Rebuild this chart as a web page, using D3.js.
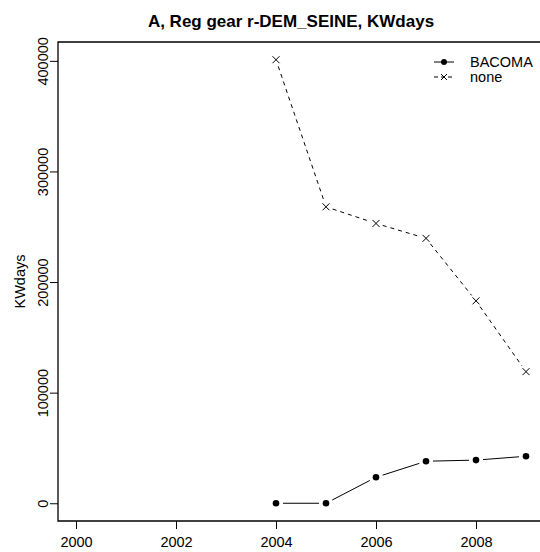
<!DOCTYPE html>
<html>
<head>
<meta charset="utf-8">
<script src="https://cdn.jsdelivr.net/npm/d3@7"></script>
<style>
  body { margin: 0; background: #fff; }
  svg { display: block; font-family: "Liberation Sans", Arial, sans-serif; }
</style>
</head>
<body>
<div id="chart"></div>
<script>
"use strict";

const years = [2004, 2005, 2006, 2007, 2008, 2009];
const bacoma = [0, 0, 23500, 38000, 39000, 42500];
const none = [401000, 268000, 253000, 239500, 183000, 119000];
const xTicks = [2000, 2002, 2004, 2006, 2008];
const yTicks = [0, 100000, 200000, 300000, 400000];
const seriesNames = ["BACOMA", "none"];

const width = 540, height = 552;
const plot = { left: 58, top: 42, right: 544, bottom: 521 };
const font = "Liberation Sans, Arial, sans-serif";

// R style 4% extension of the data ranges
const xlo = 2000, xhi = 2009;
const xpad = (xhi - xlo) * 0.04;
const ymax = d3.max(none);
const ypad = ymax * 0.04;

const x = d3.scaleLinear().domain([xlo - xpad, xhi + xpad]).range([plot.left, plot.right]);
const y = d3.scaleLinear().domain([-ypad, ymax + ypad]).range([plot.bottom, plot.top]);

const svg = d3.select("#chart").append("svg")
    .attr("width", width)
    .attr("height", height);

// box (right edge falls outside the picture)
svg.append("path")
    .attr("d", `M${width},${plot.top}H${plot.left}V${plot.bottom}H${width}`)
    .attr("fill", "none")
    .attr("stroke", "#000")
    .attr("stroke-width", 1.3);

// x axis
const xAxis = svg.append("g").attr("transform", `translate(0,${plot.bottom})`)
    .call(d3.axisBottom(x).tickValues(xTicks).tickFormat(d3.format("d")).tickSize(8).tickSizeOuter(0));
xAxis.select(".domain").remove();
xAxis.selectAll("line").attr("stroke", "#000");
xAxis.selectAll("text")
    .attr("font-size", 14.5).attr("fill", "#000").attr("font-family", font)
    .attr("y", 26).attr("dy", null);

// y axis
const yAxis = svg.append("g").attr("transform", `translate(${plot.left},0)`)
    .call(d3.axisLeft(y).tickValues(yTicks).tickFormat(d3.format("d")).tickSize(8).tickSizeOuter(0));
yAxis.select(".domain").remove();
yAxis.selectAll("line").attr("stroke", "#000");
yAxis.selectAll("text")
    .attr("font-size", 14.5).attr("fill", "#000").attr("font-family", font)
    .attr("x", null).attr("dy", null)
    .attr("text-anchor", "middle")
    .attr("transform", "translate(-10,0) rotate(-90)");

// title and axis label
svg.append("text")
    .attr("x", 291).attr("y", 27)
    .attr("text-anchor", "middle")
    .attr("font-size", 17).attr("font-weight", "bold")
    .text("A, Reg gear r-DEM_SEINE, KWdays");

svg.append("text")
    .attr("transform", `translate(25,${(plot.top + plot.bottom) / 2}) rotate(-90)`)
    .attr("text-anchor", "middle")
    .attr("font-size", 14.5)
    .text("KWdays");

// type "b" lines: segments stop short of the points
const gap = 7;
function drawSeries(vals, dash, marker) {
    const pts = years.map((yr, i) => [x(yr), y(vals[i])]);
    const segs = [];
    for (let i = 0; i < pts.length - 1; i++) {
        const [x0, y0] = pts[i], [x1, y1] = pts[i + 1];
        const len = Math.hypot(x1 - x0, y1 - y0);
        if (len <= 2 * gap) continue;
        const ux = (x1 - x0) / len, uy = (y1 - y0) / len;
        segs.push([[x0 + ux * gap, y0 + uy * gap], [x1 - ux * gap, y1 - uy * gap]]);
    }
    const g = svg.append("g");
    g.selectAll("line.seg").data(segs).enter().append("line")
        .attr("x1", d => d[0][0]).attr("y1", d => d[0][1])
        .attr("x2", d => d[1][0]).attr("y2", d => d[1][1])
        .attr("stroke", "#000").attr("stroke-width", 1)
        .attr("stroke-dasharray", dash);
    if (marker === "dot") {
        g.selectAll("circle").data(pts).enter().append("circle")
            .attr("cx", d => d[0]).attr("cy", d => d[1]).attr("r", 3.3).attr("fill", "#000");
    } else {
        g.selectAll("path").data(pts).enter().append("path")
            .attr("d", d => `M${d[0]-3.5},${d[1]-3.5}L${d[0]+3.5},${d[1]+3.5}M${d[0]-3.5},${d[1]+3.5}L${d[0]+3.5},${d[1]-3.5}`)
            .attr("stroke", "#000").attr("stroke-width", 1);
    }
}
drawSeries(bacoma, null, "dot");
drawSeries(none, "4,4", "cross");

// legend
const legend = svg.append("g").attr("transform", "translate(434,62)");
seriesNames.forEach((name, i) => {
    const row = legend.append("g").attr("transform", `translate(0,${i * 15})`);
    row.append("line").attr("x1", 0).attr("x2", 20).attr("y1", 0).attr("y2", 0)
        .attr("stroke", "#000").attr("stroke-dasharray", i === 1 ? "4,3" : null);
    if (i === 0) {
        row.append("circle").attr("cx", 10).attr("cy", 0).attr("r", 3).attr("fill", "#000");
    } else {
        row.append("path").attr("d", "M7,-3L13,3M7,3L13,-3").attr("stroke", "#000").attr("fill", "none");
    }
    row.append("text").attr("x", 36).attr("y", 0).attr("dy", "0.35em")
        .attr("font-size", 14.5).text(name);
});
</script>
</body>
</html>
